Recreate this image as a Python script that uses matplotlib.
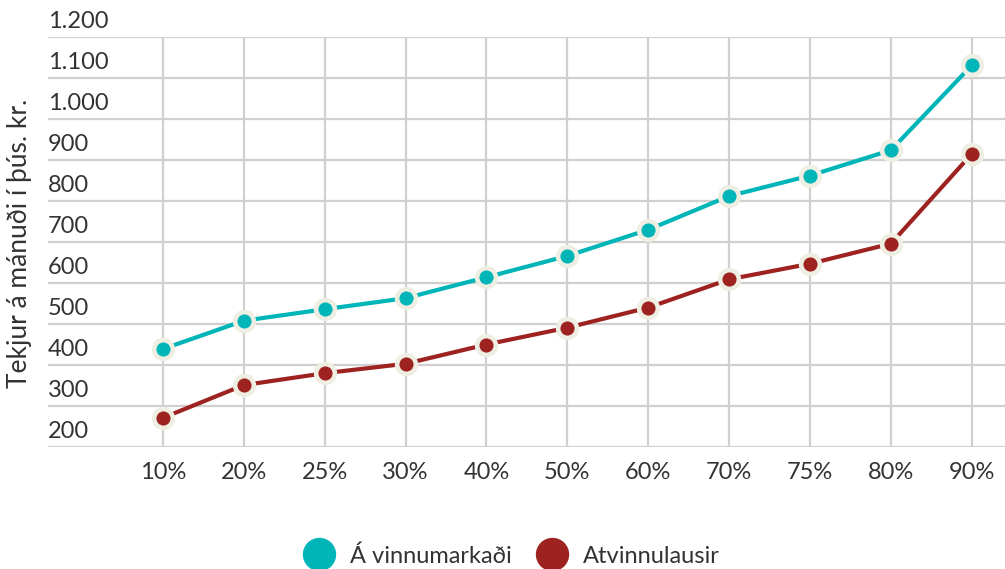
import matplotlib
matplotlib.use("Agg")
import matplotlib.pyplot as plt
from matplotlib.lines import Line2D

# ------------------------------------------------------------
# Gögn (lesin af mynd)
# ------------------------------------------------------------
tiundir = ["10%", "20%", "25%", "30%", "40%", "50%", "60%", "70%", "75%", "80%", "90%"]
a_vinnumarkadi = [439, 508, 536, 563, 614, 666, 730, 812, 862, 924, 1131]
atvinnulausir = [271, 351, 380, 403, 450, 491, 540, 609, 647, 696, 915]
y_ticks = [200, 300, 400, 500, 600, 700, 800, 900, 1000, 1100, 1200]
y_ticklabels = ["200", "300", "400", "500", "600", "700", "800", "900",
                "1.000", "1.100", "1.200"]

teal = "#00b5b8"
red = "#9e2320"
cream = "#efeee3"
grid_col = "#d0d0d0"
txt_col = "#333333"

plt.rcParams["font.family"] = ["Lato", "DejaVu Sans"]

fig = plt.figure(figsize=(10.05, 5.69), dpi=100)
ax = fig.add_axes([48 / 1005, 1 - 447 / 569, 1 - 48 / 1005, (447 - 37) / 569])

x = list(range(len(tiundir)))
ax.plot(x, a_vinnumarkadi, color=teal, lw=3.0, marker="o", ms=13.5,
        mfc=teal, mec=cream, mew=3.3, zorder=3, solid_capstyle="round")
ax.plot(x, atvinnulausir, color=red, lw=3.0, marker="o", ms=13.5,
        mfc=red, mec=cream, mew=3.3, zorder=3, solid_capstyle="round")

ax.set_xlim(-1.42, 10.41)
ax.set_ylim(200, 1200)

ax.set_xticks(x)
ax.set_xticklabels(tiundir, fontsize=17, color=txt_col)
ax.tick_params(axis="x", length=0, pad=11)

ax.set_yticks(y_ticks)
ax.set_yticklabels([])
ax.tick_params(axis="y", length=0)
for v, lab in zip(y_ticks, y_ticklabels):
    ax.annotate(lab, xy=(0, v), xycoords=ax.get_yaxis_transform(),
                xytext=(0, 6.5), textcoords="offset points",
                ha="left", va="baseline", fontsize=17, color=txt_col,
                annotation_clip=False)

ax.grid(True, color=grid_col, lw=1.6)
ax.set_axisbelow(True)
for s in ax.spines.values():
    s.set_visible(False)

fig.text(20 / 1005, 1 - 243 / 569, "Tekjur á mánuði í þús. kr.", rotation=90,
         ha="center", va="center", fontsize=19, color=txt_col)

handles = [
    Line2D([], [], ls="none", marker="o", ms=23, mfc=teal, mec=teal),
    Line2D([], [], ls="none", marker="o", ms=23, mfc=red, mec=red),
]
fig.legend(handles, ["Á vinnumarkaði", "Atvinnulausir"], loc="center",
           bbox_to_anchor=(511 / 1005, 1 - 556 / 569), ncol=2, frameon=False,
           fontsize=17, labelcolor=txt_col, handlelength=1.4,
           handletextpad=0.6, columnspacing=1.0, borderpad=0)

fig.savefig("out.png", dpi=100)
